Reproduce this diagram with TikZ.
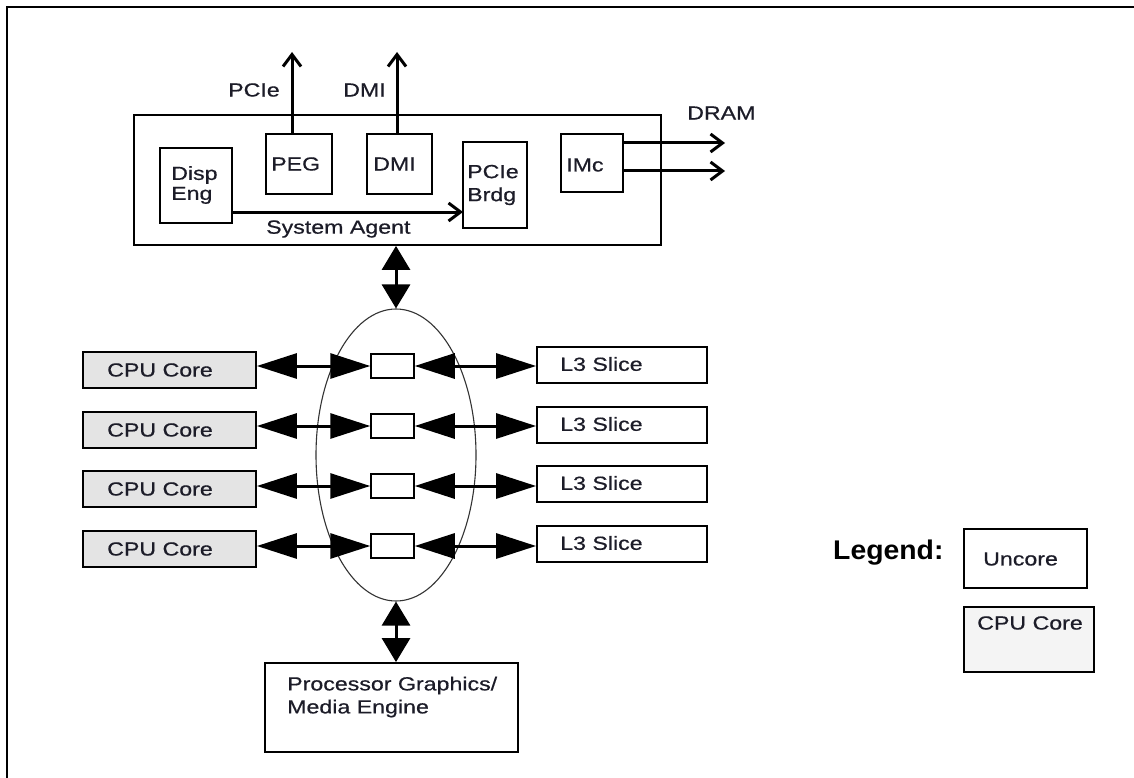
\documentclass[tikz,border=0pt]{standalone}
\usepackage{fontspec}
\setmainfont{Liberation Sans}[FakeStretch=1.22,FakeBold=0.6]
\newfontfamily\legfont{Liberation Sans}[FakeStretch=1.05]
\usetikzlibrary{arrows.meta,shapes.geometric,calc}
\definecolor{coregray}{HTML}{E4E4E4}
\definecolor{legcore}{HTML}{F4F4F4}
\definecolor{inkc}{HTML}{1C1C28}
\tikzset{
 box/.style={draw, line width=1.8pt, rectangle, inner sep=0pt},
 corebox/.style={box, fill=coregray},
 txt/.style={inner sep=0pt, anchor=west, text=inkc, font=\fontsize{19}{23}\selectfont},
 dbl/.style={line width=3pt, {Triangle[length=40pt,width=25pt]}-{Triangle[length=40pt,width=25pt]}},
 vdbl/.style={line width=3pt, {Triangle[length=24pt,width=28pt]}-{Triangle[length=24pt,width=28pt]}},
 opn/.style={line width=3pt, -{Straight Barb[length=12pt,width=18pt]}},
}
\newcommand\rbox[6]{\node[#6, minimum width={((#3)-(#1))*1pt}, minimum height={((#4)-(#2))*1pt}] (#5) at ({((#1)+(#3))/2},{((#2)+(#4))/2}) {};}
\begin{document}
\begin{tikzpicture}[x=1pt,y=-1pt]
\useasboundingbox (0,0) rectangle (1134,778);
\draw[line width=2pt] (7,778) -- (7,7) -- (1134,7);
% System agent
\rbox{134}{115}{661}{245}{sa}{box}
\rbox{160}{148}{232}{223}{disp}{box}
\rbox{266}{134}{332}{194}{peg}{box}
\rbox{367}{134}{432}{194}{dmi}{box}
\rbox{463}{142}{527}{228}{brdg}{box}
\rbox{561}{134}{623}{192}{imc}{box}
\node[txt, align=left, font=\fontsize{19}{20}\selectfont] (tdisp) at (171,185) {Disp\\Eng};
\node[txt] (tpeg) at (271,164) {PEG};
\node[txt] (tdmi) at (373,164) {DMI};
\node[txt, align=left, font=\fontsize{19}{23}\selectfont] (tbrdg) at (467,185) {PCIe\\Brdg};
\node[txt] (timc) at (566,165) {IMc};
\node[txt] (tsa) at (266,229) {System Agent};
\node[txt] (tpcie) at (228,90) {PCIe};
\node[txt] (tdmiout) at (343,90) {DMI};
\node[txt] (tdram) at (687,113) {DRAM};
\coordinate (pcieout) at (292,52);
\coordinate (dmiout) at (397,52);
\coordinate (dr1) at (725,143);
\coordinate (dr2) at (725,171);
\coordinate (db) at (463,212);
\draw[opn] (peg.north -| pcieout) -- (pcieout);
\draw[opn] (dmi.north -| dmiout) -- (dmiout);
\draw[opn] (imc.east |- dr1) -- (dr1);
\draw[opn] (imc.east |- dr2) -- (dr2);
\draw[opn] (disp.east |- db) -- (db);
% ring
\node[draw=black!80, line width=1.1pt, ellipse, minimum width=160pt, minimum height=292pt, inner sep=0pt] (ring) at (396,455) {};
\draw[vdbl] (ring.north |- sa.south) -- (ring.north);
\foreach \i/\ct/\lt/\sc in {1/352/347/366, 2/412/407/426, 3/471/466/486, 4/531/526/546} {
  \rbox{83}{\ct}{256}{\ct+36}{c\i}{corebox}
  \rbox{537}{\lt}{707}{\lt+36}{l\i}{box}
  \rbox{371}{\sc-12}{414}{\sc+12}{s\i}{box, line width=1.5pt, fill=white}
  \node[txt] (tc\i) at (107,\ct+18) {CPU Core};
  \node[txt] (tl\i) at (560,\lt+17) {L3 Slice};
  \draw[dbl] (c\i.east |- s\i.west) -- (s\i.west);
  \draw[dbl] (s\i.east) -- (l\i.west |- s\i.east);
}
% graphics
\rbox{265}{663}{518}{752}{pg}{box}
\node[txt, align=left, font=\fontsize{19}{23}\selectfont] (tpg) at (287,697) {Processor Graphics/\\Media Engine};
\draw[vdbl] (ring.south) -- (ring.south |- pg.north);
% legend
\node[inner sep=0pt, anchor=west, font=\legfont\bfseries\fontsize{27}{30}\selectfont] (tleg) at (833,553) {Legend:};
\rbox{964}{529}{1087}{588}{lun}{box}
\node[txt] (tlun) at (983,559) {Uncore};
\rbox{964}{607}{1094}{672}{lcore}{box, fill=legcore}
\node[txt] (tlcore) at (977,623) {CPU Core};
\end{tikzpicture}
\end{document}
